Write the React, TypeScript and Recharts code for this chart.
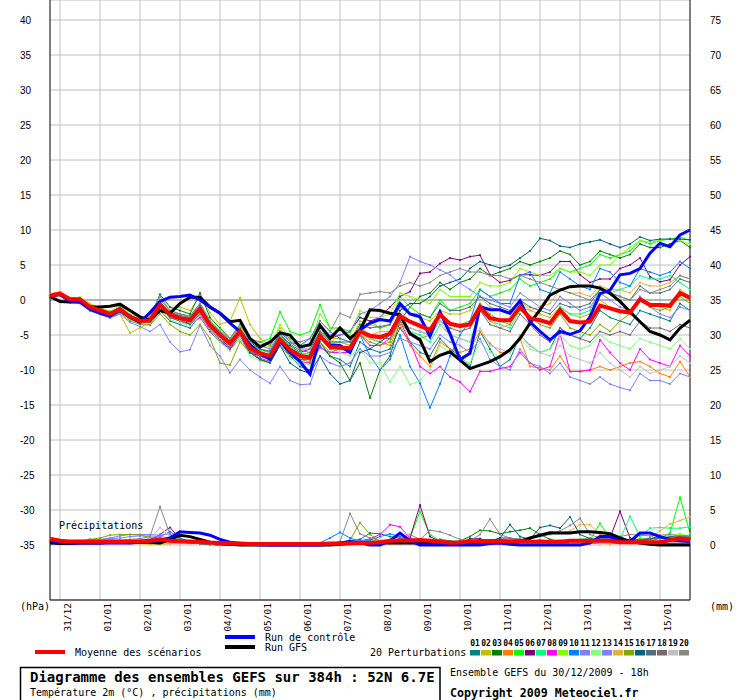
import React from 'react'
import { LineChart, Line, XAxis, YAxis, CartesianGrid, ReferenceLine } from 'recharts'

const MONO = '"DejaVu Sans Mono", "Liberation Mono", monospace'
const SANS = '"Liberation Sans", Arial, sans-serif'

// 6-hourly steps from 30/12/2009 18h up to +384h (65 steps)
const DAY_LABELS = ['31/12', '01/01', '02/01', '03/01', '04/01', '05/01', '06/01', '07/01', '08/01', '09/01', '10/01', '11/01', '12/01', '13/01', '14/01', '15/01']
const DAY_TICKS = [1, 5, 9, 13, 17, 21, 25, 29, 33, 37, 41, 45, 49, 53, 57, 61]
const T_TICKS = [-35, -30, -25, -20, -15, -10, -5, 0, 5, 10, 15, 20, 25, 30, 35, 40]
const P_TICKS = [0, 5, 10, 15, 20, 25, 30, 35, 40, 45, 50, 55, 60, 65, 70, 75]

const PERT_COLORS = ['#008080', '#c0c000', '#008000', '#ff8000', '#00ff00', '#800080', '#00ff80', '#ff00ff', '#80ff00', '#0080ff',
  '#8080ff', '#80ff80', '#8080ff', '#e0b040', '#80a800', '#006080', '#507078', '#786870', '#c0c0c0', '#888888']

// temperature 2m (°C)
const T_MEAN = [0.6, 0.9, 0.1, 0.1, -1.0, -1.5, -2.0, -1.3, -2.4, -3.0, -2.9, -0.7, -2.1, -2.6, -2.9, -1.3, -3.6, -5.0, -6.2, -4.5, -6.9, -7.6, -8.0, -5.6, -7.1, -8.0, -8.2, -5.1, -6.7, -6.8, -6.9, -4.5, -5.1, -5.3, -4.8, -2.3, -3.1, -3.7, -4.3, -2.1, -3.4, -3.7, -3.5, -1.0, -2.6, -2.9, -2.9, -1.0, -2.6, -2.9, -3.3, -1.4, -3.0, -3.2, -3.1, -0.8, -1.2, -1.6, -1.8, 0.1, -0.7, -0.7, -0.8, 1.0, 0.3]
const T_CTRL = [0.5, 0.8, -0.2, -0.3, -1.3, -1.9, -2.3, -1.5, -2.5, -3.2, -1.8, -0.2, 0.4, 0.5, 0.7, 0.0, -1.0, -1.9, -3.3, -4.5, -6.4, -7.6, -8.5, -5.9, -7.5, -8.8, -10.6, -5.2, -6.4, -6.5, -7.5, -4.3, -3.3, -2.8, -3.0, -0.5, -2.0, -2.4, -5.2, -1.7, -4.8, -8.5, -7.6, -0.95, -1.4, -1.4, -1.9, -0.1, -3.1, -4.5, -5.7, -4.5, -4.9, -4.4, -2.4, 0.9, 1.4, 3.6, 3.8, 4.5, 6.7, 8.1, 7.6, 9.3, 10.0]
const T_GFS = [0.5, -0.2, -0.3, -0.2, -1.0, -1.0, -0.9, -0.6, -1.5, -2.4, -2.9, -1.5, -1.9, -0.5, 0.4, 0.4, -1.0, -1.9, -3.1, -2.9, -5.5, -6.7, -6.0, -4.7, -5.0, -6.7, -6.4, -3.6, -5.5, -4.0, -5.5, -4.3, -1.4, -1.5, -1.9, -2.1, -4.8, -5.7, -8.8, -7.9, -7.4, -8.6, -9.8, -9.3, -8.8, -8.1, -7.1, -5.5, -3.3, -1.4, 0.7, 1.4, 1.9, 2.0, 2.0, 1.7, 0.95, -0.2, -1.7, -3.1, -4.5, -5.0, -5.7, -4.0, -2.9]

const T_PERT = [
  // 01
  [0.5, 0.8, 0.0, 0.2, -1.2, -1.8, -2.3, -1.5, -2.8, -3.2, -3.5, -1.5, -3.0, -3.5, -4.0, -2.2, -4.5, -6.0, -7.0, -5.0, -7.5, -8.5, -9.0, -6.0, -8.0, -9.5, -10.0, -6.5, -8.0, -8.5, -9.5, -6.0, -7.0, -7.5, -7.0, -4.0, -6.0, -7.5, -8.0, -5.5, -7.0, -8.0, -9.5, -4.5, -7.0, -9.5, -8.5, -5.0, -6.5, -7.5, -7.0, -4.0, -5.0, -5.5, -4.0, -1.5, -2.5, -3.0, -3.5, -1.5, -2.0, -2.5, -3.0, -0.5, -1.5],
  // 02
  [0.8, 1.0, 0.3, 0.3, -0.5, -1.2, -2.5, -2.0, -4.7, -4.0, -3.0, 0.0, -1.5, -1.0, -1.5, 0.5, -1.8, -3.5, -3.0, 0.3, -3.5, -5.5, -6.5, -4.0, -6.0, -7.0, -6.5, -3.5, -5.5, -5.5, -6.0, -3.0, -3.5, -4.0, -3.5, -1.0, -2.0, -2.5, -3.0, -1.5, -2.0, -2.0, -1.5, 0.5, -1.0, -1.5, -2.0, 0.0, -1.5, -2.0, -2.5, -1.0, -2.0, -2.5, -2.0, 0.0, -1.0, -1.5, -2.0, 0.5, -0.5, -1.0, -1.5, 1.5, 0.5],
  // 03
  [0.6, 0.9, 0.2, 0.2, -0.8, -1.3, -1.8, -1.0, -2.2, -2.8, -2.5, 0.8, -1.0, -1.5, -2.0, 1.0, -2.5, -4.0, -5.5, -3.5, -6.0, -7.0, -7.5, -5.0, -6.5, -7.5, -8.5, -6.0, -8.0, -9.0, -11.5, -9.0, -14.0, -10.0, -8.0, -3.0, -1.0, 0.5, 1.0, 2.5, 1.5, 2.5, 3.0, 4.5, 3.5, 4.0, 4.5, 5.5, 5.0, 5.5, 6.0, 7.0, 6.5, 5.0, 5.5, 7.0, 6.5, 6.0, 6.5, 8.0, 7.5, 7.5, 8.0, 8.5, 7.5],
  // 04
  [0.4, 0.7, -0.2, -0.1, -1.3, -1.9, -2.2, -1.6, -2.6, -3.3, -3.2, -1.0, -2.3, -3.0, -3.5, -2.0, -4.0, -5.5, -6.5, -4.8, -7.2, -8.0, -8.5, -6.0, -7.5, -8.5, -8.0, -5.0, -6.5, -6.5, -7.0, -5.0, -5.5, -6.0, -6.5, -3.5, -6.5, -8.0, -9.5, -6.0, -7.0, -7.5, -7.0, -4.5, -6.2, -7.5, -7.5, -5.5, -9.5, -9.7, -10.0, -8.0, -10.2, -10.2, -10.0, -9.5, -10.0, -9.5, -9.0, -8.8, -9.5, -10.5, -11.0, -8.8, -11.0],
  // 05
  [0.7, 1.0, 0.2, 0.3, -0.8, -1.4, -1.8, -1.2, -2.2, -2.8, -2.5, -0.3, -1.8, -2.0, -2.5, -0.8, -3.0, -4.5, -5.5, -4.0, -6.0, -6.0, -5.5, -1.7, -4.5, -5.0, -4.5, -0.7, -4.0, -4.0, -4.5, -2.5, -3.0, -4.0, -3.5, 0.5, -1.0, -2.0, -2.5, 0.0, -1.5, -1.0, -0.5, 1.5, 0.5, 1.0, 1.5, 3.0, 2.0, 2.5, 3.0, 4.5, 4.0, 4.5, 5.0, 6.5, 6.0, 6.5, 7.0, 8.5, 8.0, 8.5, 8.7, 9.0, 8.5],
  // 06
  [0.5, 0.8, 0.1, 0.0, -1.1, -1.6, -2.0, -1.3, -2.5, -3.0, -3.0, -0.5, -2.0, -2.8, -3.2, -1.5, -3.8, -5.5, -6.5, -5.0, -7.5, -8.0, -8.5, -6.0, -7.0, -7.5, -7.0, -4.5, -5.5, -5.0, -4.5, -2.5, -3.0, -2.5, -1.0, 0.5, 1.2, 3.8, 4.0, 5.2, 6.0, 5.7, 6.2, 6.4, 3.6, 2.5, 2.8, 3.6, 3.6, 3.5, 4.0, 5.5, 5.5, 3.6, 2.5, 3.0, 3.0, 4.5, 5.0, 6.0, 3.3, 2.6, 2.9, 5.0, 6.2],
  // 07
  [0.6, 0.9, 0.1, 0.2, -0.9, -1.4, -1.9, -1.2, -2.3, -2.9, -2.7, -0.5, -2.0, -2.5, -2.8, -1.0, -3.3, -4.8, -6.0, -4.2, -6.5, -7.2, -7.5, -5.0, -6.8, -7.5, -7.8, -4.0, -6.0, -6.0, -6.5, -3.5, -5.5, -6.0, -5.0, -2.5, -4.5, -5.0, -6.0, -3.5, -5.0, -5.5, -6.0, -1.5, -3.0, -3.5, -4.0, -1.5, -2.5, -3.0, -3.5, -1.0, -2.0, -2.0, -1.5, 1.5, 1.0, 1.5, 2.0, 3.5, 3.0, 3.0, 3.5, 2.5, 1.5],
  // 08
  [0.5, 0.7, 0.0, 0.0, -1.1, -1.6, -2.1, -1.4, -2.6, -3.1, -3.1, -1.0, -2.4, -3.0, -3.4, -2.5, -4.5, -5.8, -7.0, -5.5, -7.5, -8.3, -8.8, -6.5, -8.0, -8.8, -9.0, -6.8, -7.5, -7.5, -7.5, -5.0, -6.5, -6.5, -5.5, -3.0, -6.0, -9.5, -10.5, -9.5, -11.0, -11.7, -13.1, -10.2, -10.2, -9.8, -9.5, -7.5, -9.0, -10.0, -9.5, -4.8, -10.2, -10.2, -10.0, -5.7, -7.5, -9.0, -10.0, -7.0, -8.5, -9.0, -9.5, -6.5, -8.0],
  // 09
  [0.7, 1.0, 0.3, 0.4, -0.6, -1.1, -1.6, -0.8, -2.0, -2.5, -2.3, 0.5, -1.5, -2.0, -2.3, -0.5, -2.8, -4.2, -5.5, -3.8, -5.8, -6.5, -6.8, -3.5, -5.8, -6.5, -6.5, -2.0, -4.0, -4.0, -5.0, -1.5, -2.5, -2.5, -2.0, 1.0, 0.5, 0.0, -0.5, 1.5, 0.5, 0.5, 0.5, 2.5, 2.0, 2.0, 2.5, 4.5, 4.0, 3.5, 3.5, 4.5, 4.0, 4.0, 3.5, 5.0, 5.0, 6.5, 7.5, 8.5, 8.3, 8.5, 8.8, 8.5, 8.0],
  // 10
  [0.6, 0.9, 0.0, 0.1, -1.0, -1.5, -2.0, -1.2, -2.4, -3.0, -2.8, -0.3, -2.0, -2.4, -2.6, -0.8, -3.4, -4.8, -6.0, -4.5, -7.0, -7.5, -8.0, -4.5, -6.0, -6.5, -5.5, -3.0, -4.5, -5.5, -6.0, -5.0, -8.0, -10.0, -8.5, -5.0, -9.5, -11.9, -15.4, -12.0, -8.0, -5.0, -3.0, 1.5, 0.5, -0.5, -0.5, 3.5, 4.0, 1.5, 1.0, 4.0, 3.0, 2.0, 1.5, 4.5, 4.0, 2.5, 2.0, 4.5, 4.0, 3.5, 4.0, 5.5, 4.5],
  // 11
  [0.6, 0.9, 0.1, 0.2, -0.9, -1.4, -1.8, -1.0, -2.2, -2.8, -2.5, 0.5, -1.5, -2.0, -2.3, -0.5, -3.0, -4.5, -5.5, -4.0, -6.0, -6.5, -7.0, -4.5, -6.0, -7.0, -7.0, -3.5, -5.0, -5.0, -4.5, -2.0, -1.5, -0.5, 0.5, 2.5, 6.2, 5.5, 5.0, 4.3, 3.6, 2.4, 1.5, 0.5, 0.0, -0.5, -1.0, 1.0, 0.0, -1.0, -1.5, 0.5, -0.5, -1.5, -1.0, 1.0, 0.0, -1.0, -1.5, 0.5, -1.0, -2.0, -2.5, -1.0, -1.5],
  // 12
  [0.5, 0.8, -0.1, 0.0, -1.2, -1.7, -2.2, -1.6, -2.8, -3.3, -3.4, -1.5, -2.8, -3.3, -3.6, -2.3, -4.3, -6.0, -7.3, -5.5, -8.0, -8.7, -9.0, -6.5, -8.3, -9.0, -9.3, -5.5, -7.0, -7.5, -8.0, -7.0, -9.0, -9.0, -11.7, -9.5, -12.1, -11.5, -10.0, -6.5, -7.5, -8.5, -9.0, -6.0, -7.5, -8.0, -7.5, -5.5, -7.0, -7.5, -7.0, -5.0, -6.5, -7.0, -6.5, -5.0, -6.0, -6.5, -7.0, -5.5, -6.0, -6.5, -7.0, -5.5, -7.0],
  // 13
  [0.4, 0.6, -0.4, -0.5, -1.6, -2.0, -2.6, -2.0, -3.2, -3.8, -4.5, -3.5, -6.0, -7.4, -7.1, -3.6, -6.5, -8.0, -10.4, -8.5, -10.0, -11.0, -11.9, -9.5, -11.5, -12.1, -12.0, -8.0, -9.0, -9.5, -9.0, -7.0, -8.0, -8.0, -7.5, -5.5, -6.0, -6.5, -7.0, -5.0, -6.0, -6.5, -7.5, -5.5, -8.5, -9.5, -10.0, -7.0, -9.0, -9.5, -10.5, -9.0, -11.0, -11.5, -12.0, -11.0, -12.0, -12.5, -12.9, -10.5, -11.5, -11.5, -12.0, -10.5, -11.0],
  // 14
  [0.9, 1.2, 0.3, 0.3, -0.8, -1.3, -1.9, -1.2, -2.4, -2.9, -2.8, -0.5, -2.0, -2.7, -3.0, -1.5, -3.8, -5.2, -6.3, -4.8, -7.0, -7.8, -8.2, -6.0, -7.5, -8.0, -7.5, -4.5, -5.8, -6.0, -6.5, -4.0, -5.0, -4.5, -4.5, -1.5, -3.0, -3.5, -4.0, -1.5, -3.5, -4.0, -3.5, -0.5, -3.0, -4.0, -3.5, -1.0, -1.5, -1.0, -0.5, 1.5, 1.0, 1.0, 0.5, 2.0, 1.5, 1.5, 1.0, 2.5, 2.0, 2.0, 2.5, 3.5, 3.0],
  // 15
  [0.5, 0.7, -0.1, -0.2, -1.3, -1.9, -2.4, -1.8, -3.0, -3.5, -3.6, -2.0, -3.5, -4.5, -5.0, -3.5, -5.5, -9.0, -9.3, -6.0, -7.5, -8.5, -8.8, -6.5, -8.0, -8.5, -8.8, -6.0, -7.5, -7.0, -7.5, -5.0, -6.0, -6.5, -6.0, -3.0, -5.0, -5.5, -5.0, -2.0, -3.5, -3.5, -3.0, -0.5, -2.0, -3.0, -3.5, -1.0, -2.5, -3.5, -4.0, -2.0, -4.0, -4.5, -5.0, -3.5, -4.5, -3.0, -2.0, 0.0, -1.0, -1.5, -1.0, 0.5, -0.5],
  // 16
  [0.6, 0.8, 0.0, 0.1, -1.0, -1.5, -2.0, -1.3, -2.5, -3.0, -2.9, -1.0, -2.5, -3.0, -3.3, -1.5, -4.0, -5.5, -6.8, -5.0, -7.5, -8.5, -9.0, -6.5, -9.0, -10.0, -10.5, -8.0, -10.5, -12.0, -11.5, -7.5, -7.0, -6.0, -5.0, -1.5, -0.5, -0.5, 0.5, 2.0, 2.5, 3.0, 4.5, 5.5, 5.0, 4.6, 5.0, 6.0, 7.0, 8.8, 8.5, 7.7, 7.5, 8.0, 8.3, 8.6, 8.0, 7.5, 8.0, 9.0, 8.5, 8.7, 8.7, 8.7, 8.6],
  // 17
  [0.7, 0.9, 0.2, 0.2, -0.8, -1.3, -1.8, -1.1, -2.2, -2.7, -2.6, -0.3, -1.8, -2.2, -2.5, -0.8, -3.2, -4.6, -5.8, -4.2, -6.3, -7.0, -7.3, -4.8, -6.3, -7.2, -7.5, -4.5, -6.0, -6.0, -6.0, -3.5, -4.0, -3.8, -3.5, -1.0, -2.0, -2.0, -2.5, -0.5, -1.5, -1.5, -1.0, 0.5, -0.5, -1.0, -1.5, 0.0, -1.0, -1.5, -2.0, -0.5, -1.0, -1.0, -0.5, 1.5, 1.0, 0.5, 0.0, 2.0, 1.0, 1.0, 1.5, 3.0, 2.5],
  // 18
  [0.4, 0.7, -0.2, -0.1, -1.2, -1.8, -2.2, -1.5, -2.6, -3.2, -3.1, -1.0, -2.5, -3.0, -3.5, -2.0, -4.2, -5.7, -6.8, -5.0, -7.3, -8.0, -8.5, -6.0, -7.5, -8.5, -8.5, -5.5, -7.0, -7.0, -7.0, -4.5, -5.5, -5.5, -5.5, -3.0, -4.0, -4.5, -5.0, -3.0, -4.0, -4.5, -4.0, -1.5, -3.5, -4.0, -4.5, -2.0, -3.5, -5.0, -6.0, -4.0, -5.0, -5.5, -6.0, -4.5, -5.0, -4.5, -5.0, -3.0, -4.0, -4.0, -4.5, -3.5, -4.0],
  // 19
  [0.6, 0.8, 0.0, 0.0, -1.1, -1.6, -2.1, -1.4, -2.5, -3.1, -3.0, -0.8, -2.3, -2.9, -3.2, -1.8, -4.0, -5.5, -6.5, -5.0, -7.0, -7.8, -8.3, -5.5, -7.3, -8.0, -8.3, -5.0, -6.8, -6.8, -7.0, -4.5, -5.5, -5.5, -5.0, -2.5, -4.0, -4.5, -5.0, -3.0, -5.0, -5.5, -6.0, -4.0, -6.5, -7.0, -7.5, -5.0, -6.5, -7.5, -8.0, -6.5, -8.0, -8.5, -9.0, -7.5, -9.0, -10.0, -11.0, -9.5, -10.5, -10.0, -9.5, -8.0, -9.0],
  // 20
  [0.6, 0.9, 0.1, 0.1, -1.0, -1.5, -1.9, -1.2, -2.3, -2.8, -2.6, 0.0, -1.5, -2.0, -2.3, -0.5, -3.0, -4.5, -5.5, -3.5, -5.5, -6.0, -6.5, -4.5, -5.5, -6.0, -5.5, -3.0, -4.5, -1.9, -2.5, 0.8, 1.0, 1.2, 1.0, 2.0, 2.5, 2.0, 2.5, 3.5, 4.0, 4.5, 4.0, 4.0, 3.5, 3.5, 3.0, 3.5, 3.0, 2.5, 2.0, 1.5, 1.0, 0.5, 0.0, 1.5, 1.0, 0.5, 0.0, 1.5, 1.0, 1.5, 2.0, 3.5, 3.0],
]

// precipitations (mm), right axis
const P_MEAN = [0.9, 0.6, 0.5, 0.5, 0.5, 0.45, 0.45, 0.45, 0.5, 0.5, 0.6, 0.8, 0.6, 0.55, 0.5, 0.45, 0.35, 0.3, 0.25, 0.2, 0.15, 0.15, 0.15, 0.15, 0.15, 0.15, 0.15, 0.15, 0.2, 0.2, 0.25, 0.3, 0.33, 0.4, 0.6, 0.65, 0.65, 0.7, 0.6, 0.45, 0.33, 0.35, 0.55, 0.55, 0.57, 0.57, 0.55, 0.57, 0.5, 0.48, 0.48, 0.48, 0.6, 0.62, 0.62, 0.62, 0.6, 0.4, 0.38, 0.38, 0.38, 0.4, 0.7, 0.95, 0.7]
const P_CTRL = [0.6, 0.4, 0.3, 0.3, 0.3, 0.3, 0.3, 0.3, 0.3, 0.4, 0.5, 0.6, 1.0, 1.9, 1.8, 1.7, 1.4, 0.8, 0.4, 0.2, 0.1, 0.05, 0, 0, 0, 0, 0, 0, 0.1, 0.3, 0.5, 0.3, 0, 0, 0.6, 1.7, 0.6, 0, 0, 0, 0, 0, 0, 0, 0.2, 0.3, 0.1, 0, 0, 0, 0, 0, 0, 0, 0.3, 1.2, 1.2, 0.6, 0.5, 1.7, 1.7, 1.2, 0.8, 0.6, 0.5]
const P_GFS = [0.3, 0.2, 0.2, 0.3, 0.3, 0.3, 0.4, 0.5, 0.5, 0.4, 0.4, 0.3, 0.8, 1.4, 1.2, 0.8, 0.4, 0.2, 0.1, 0, 0, 0, 0, 0, 0, 0, 0, 0, 0, 0.1, 0.2, 0.3, 0.3, 0.3, 0.3, 0.3, 0.3, 0.3, 0.3, 0.3, 0.3, 0.3, 0.3, 0.3, 0.4, 0.4, 0.3, 0.5, 1.0, 1.4, 1.75, 1.7, 1.7, 1.9, 1.9, 1.8, 1.6, 1.0, 0.5, 0.3, 0.1, 0, 0, 0, 0]

const P_PERT = [
  [0.7, 0.5, 0.4, 0.5, 0.6, 0.5, 0.4, 0.4, 0.5, 0.6, 0.7, 0.9, 0.6, 0.5, 0.4, 0.3, 0.2, 0.1, 0.1, 0, 0, 0, 0, 0, 0, 0, 0, 0, 0.2, 0.4, 0.6, 0.8, 1.7, 1.6, 1.2, 1.0, 0.6, 0.5, 0.4, 0.8, 0.6, 0.4, 0.5, 0.8, 0.6, 0.5, 0.4, 0.3, 0.5, 0.6, 0.4, 0.3, 0.2, 0.3, 0.5, 0.4, 0.6, 0.8, 0.7, 0.6, 0.9, 1.0, 1.2, 1.3, 1.2],
  [0.8, 0.4, 0.3, 0.2, 0.2, 0.2, 0.3, 0.3, 0.2, 0.2, 0.1, 0.1, 0.2, 0.3, 0.4, 0.2, 0.1, 0, 0, 0, 0, 0, 0, 0, 0, 0, 0, 0, 0, 0.1, 0.2, 0.1, 0.1, 0.2, 0.3, 0.4, 0.3, 0.2, 0.2, 0.3, 0.2, 0.1, 0.1, 0, 0.1, 0.2, 0.3, 0.2, 0.2, 0.3, 0.3, 0.2, 0.2, 0.3, 0.4, 0.3, 0.2, 0.2, 0.3, 0.2, 0.2, 0.3, 0.2, 0.2, 0.3],
  [0.6, 0.5, 0.4, 0.5, 0.5, 0.4, 0.3, 0.3, 0.4, 0.5, 0.6, 0.7, 0.5, 0.4, 0.3, 0.2, 0.1, 0, 0, 0, 0, 0, 0, 0, 0, 0, 0, 0, 0, 0.1, 0.3, 0.5, 0.4, 0.3, 0.5, 0.6, 0.5, 0.4, 0.3, 0.4, 0.5, 0.6, 1.2, 2.1, 2.0, 1.6, 1.9, 2.1, 2.4, 1.5, 0.8, 0.5, 0.4, 0.3, 0.4, 0.5, 0.4, 0.3, 0.4, 0.3, 0.4, 0.5, 0.4, 0.3, 0.4],
  [0.7, 0.5, 0.5, 0.6, 0.7, 0.8, 0.8, 0.7, 0.6, 0.5, 0.4, 0.4, 0.3, 0.3, 0.2, 0.2, 0.1, 0, 0, 0, 0, 0, 0, 0, 0, 0, 0, 0, 0, 0, 0.1, 0.2, 0.2, 0.3, 0.2, 0.2, 0.3, 0.4, 0.3, 0.2, 0.2, 0.2, 0.3, 0.3, 0.2, 0.2, 0.1, 0.2, 0.2, 0.3, 0.2, 0.2, 0.3, 0.2, 0.3, 0.2, 0.2, 0.3, 0.2, 0.3, 0.2, 0.2, 0.3, 0.4, 0.3],
  [0.6, 0.5, 0.4, 0.4, 0.5, 0.5, 0.4, 0.5, 0.6, 0.7, 0.8, 1.0, 0.9, 0.6, 0.4, 0.3, 0.2, 0.1, 0, 0, 0, 0, 0, 0, 0, 0, 0, 0, 0, 0.2, 0.3, 0.5, 0.6, 0.5, 0.6, 0.8, 1.0, 4.8, 1.5, 0.6, 0.5, 0.4, 0.3, 0.4, 0.5, 0.6, 0.5, 0.4, 0.5, 0.4, 0.3, 0.4, 0.5, 0.6, 0.7, 3.1, 0.9, 0.5, 0.6, 0.7, 0.5, 1.0, 1.7, 6.8, 1.7],
  [0.5, 0.4, 0.3, 0.4, 0.5, 0.5, 0.4, 0.4, 0.5, 0.6, 0.7, 1.5, 2.5, 0.9, 0.5, 0.3, 0.2, 0.1, 0, 0, 0, 0, 0, 0, 0, 0, 0, 0, 0, 0.1, 0.2, 0.3, 0.3, 0.4, 0.5, 0.7, 1.0, 5.7, 1.2, 0.5, 0.4, 0.3, 0.9, 0.9, 0.4, 1.0, 1.0, 0.8, 0.6, 0.5, 0.4, 0.5, 0.6, 0.5, 0.6, 0.7, 1.0, 4.8, 1.0, 0.6, 0.5, 0.4, 0.5, 0.6, 0.5],
  [0.6, 0.4, 0.4, 0.5, 0.5, 0.4, 0.4, 0.5, 0.5, 0.6, 0.7, 0.8, 1.2, 0.7, 0.4, 0.2, 0.1, 0, 0, 0, 0, 0, 0, 0, 0, 0, 0, 0, 0.1, 0.2, 0.3, 0.2, 0.3, 0.4, 0.5, 0.6, 0.7, 0.6, 0.5, 0.4, 0.4, 0.5, 0.4, 0.5, 0.6, 0.7, 0.6, 0.5, 0.6, 0.7, 0.6, 0.5, 0.7, 0.8, 1.0, 0.7, 0.6, 0.8, 4.1, 1.2, 2.4, 2.5, 2.4, 2.4, 2.6],
  [0.5, 0.4, 0.3, 0.3, 0.4, 0.3, 0.3, 0.4, 0.4, 0.5, 0.6, 0.7, 0.6, 0.5, 0.3, 0.2, 0.1, 0, 0, 0, 0, 0, 0, 0, 0, 0, 0, 0, 0, 0.2, 0.4, 0.6, 0.9, 1.5, 2.9, 2.6, 1.0, 0.6, 0.5, 0.4, 0.3, 0.3, 0.2, 0.3, 0.4, 0.5, 0.4, 0.3, 0.2, 0.3, 0.4, 0.3, 0.2, 0.3, 0.2, 0.3, 0.4, 0.3, 0.4, 0.3, 0.2, 0.3, 0.2, 0.4, 0.3],
  [0.5, 0.4, 0.4, 0.5, 0.4, 0.4, 0.5, 0.5, 0.6, 0.6, 0.7, 0.8, 0.9, 0.6, 0.4, 0.3, 0.2, 0.1, 0, 0, 0, 0, 0, 0, 0, 0, 0, 0, 0, 0.1, 0.2, 0.3, 0.4, 0.5, 0.6, 0.6, 0.5, 0.6, 0.5, 0.4, 0.3, 0.3, 0.4, 0.5, 0.5, 0.6, 0.5, 0.5, 0.4, 0.5, 0.6, 0.7, 0.6, 0.5, 0.6, 0.6, 0.8, 0.7, 0.8, 0.9, 1.0, 1.1, 1.4, 1.6, 1.2],
  [0.5, 0.4, 0.5, 0.5, 0.4, 0.4, 0.5, 0.6, 0.6, 0.7, 0.9, 1.2, 1.9, 1.0, 0.5, 0.3, 0.2, 0.1, 0, 0, 0, 0, 0, 0, 0, 0, 0, 0.3, 1.0, 1.8, 1.0, 0.5, 0.7, 1.2, 1.6, 1.2, 0.8, 0.5, 0.4, 0.3, 0.3, 0.4, 0.5, 0.4, 0.3, 0.4, 0.5, 0.4, 0.3, 0.3, 0.4, 0.5, 0.4, 0.5, 0.7, 0.9, 1.0, 0.8, 0.7, 0.6, 0.8, 0.9, 1.0, 0.8, 0.7],
  [0.5, 0.4, 0.5, 0.6, 0.7, 0.8, 1.0, 1.3, 1.5, 1.5, 1.5, 1.4, 1.6, 0.8, 0.5, 0.3, 0.2, 0.1, 0, 0, 0, 0, 0, 0, 0, 0, 0, 0, 0, 0.1, 0.2, 0.2, 0.3, 0.3, 0.4, 0.5, 0.4, 0.3, 0.3, 0.4, 0.5, 0.4, 0.3, 0.3, 0.4, 0.3, 0.3, 0.4, 0.4, 0.3, 0.3, 0.4, 0.3, 0.3, 0.4, 0.4, 0.3, 0.4, 0.5, 0.4, 0.3, 0.3, 0.4, 0.3, 0.4],
  [0.6, 0.4, 0.3, 0.4, 0.4, 0.4, 0.4, 0.4, 0.5, 0.5, 0.5, 0.6, 0.5, 0.4, 0.3, 0.2, 0.1, 0, 0, 0, 0, 0, 0, 0, 0, 0, 0, 0, 0, 0, 0.1, 0.2, 0.3, 0.4, 0.5, 0.4, 0.4, 0.3, 0.4, 0.5, 0.4, 0.3, 0.3, 0.4, 0.3, 0.3, 0.4, 0.3, 0.4, 0.3, 0.3, 0.4, 0.4, 0.5, 0.4, 0.6, 0.5, 0.4, 0.5, 0.4, 0.6, 0.5, 0.6, 0.5, 0.6],
  [0.6, 0.5, 0.5, 0.6, 0.7, 0.7, 0.9, 1.0, 1.2, 1.3, 1.3, 1.2, 1.0, 0.6, 0.4, 0.3, 0.2, 0.1, 0, 0, 0, 0, 0, 0, 0, 0, 0, 0, 0, 0.1, 0.1, 0.2, 0.2, 0.3, 0.4, 0.3, 0.3, 0.2, 0.3, 0.3, 0.3, 0.3, 0.2, 0.3, 0.3, 0.2, 0.2, 0.3, 0.2, 0.3, 0.3, 0.2, 0.2, 0.3, 0.2, 0.3, 0.3, 0.2, 0.3, 0.3, 0.2, 0.3, 0.2, 0.3, 0.2],
  [0.6, 0.5, 0.5, 0.6, 0.8, 0.5, 0.4, 0.4, 0.3, 0.3, 0.3, 0.2, 0.2, 0.2, 0.3, 0.4, 0.3, 0.2, 0.1, 0, 0, 0, 0, 0, 0, 0, 0, 0, 0, 0, 0.1, 0.1, 0.2, 0.2, 0.3, 0.3, 0.2, 0.2, 0.1, 0.1, 0.2, 0.2, 0.3, 0.2, 0.2, 0.2, 0.3, 0.5, 1.0, 1.5, 1.8, 1.8, 2.0, 2.9, 2.9, 1.5, 1.0, 0.8, 0.6, 0.7, 1.0, 2.0, 3.0, 3.5, 4.0],
  [0.5, 0.5, 0.5, 0.6, 0.8, 1.0, 1.4, 1.5, 1.5, 1.4, 1.1, 0.8, 0.6, 0.4, 0.3, 0.2, 0.1, 0, 0, 0, 0, 0, 0, 0, 0, 0, 0, 0, 0.1, 0.3, 0.7, 3.2, 1.5, 0.6, 0.5, 0.4, 0.3, 0.3, 0.4, 0.3, 0.3, 0.2, 0.3, 0.3, 0.4, 0.3, 0.3, 0.4, 0.3, 0.3, 0.4, 0.3, 0.4, 0.5, 0.6, 0.4, 0.3, 0.3, 0.4, 0.5, 0.4, 0.5, 0.6, 0.5, 0.6],
  [0.6, 0.4, 0.4, 0.5, 0.5, 0.5, 0.4, 0.4, 0.5, 0.6, 0.6, 0.7, 0.6, 0.5, 0.3, 0.2, 0.1, 0, 0, 0, 0, 0, 0, 0, 0, 0, 0, 0, 0, 0.1, 0.2, 0.3, 0.3, 0.4, 0.5, 0.4, 0.4, 0.5, 0.4, 0.4, 0.3, 0.3, 0.4, 0.5, 0.6, 1.0, 2.9, 1.2, 0.8, 2.5, 2.8, 2.4, 4.0, 1.5, 0.9, 0.7, 0.6, 0.6, 0.8, 0.7, 0.9, 1.2, 1.0, 0.9, 1.1],
  [0.6, 0.4, 0.4, 0.5, 0.5, 0.4, 0.4, 0.5, 0.5, 0.5, 0.6, 0.6, 0.5, 0.4, 0.3, 0.2, 0.1, 0, 0, 0, 0, 0, 0, 0, 0, 0, 0, 0, 0, 0.1, 0.1, 0.2, 0.3, 0.4, 0.5, 0.5, 0.4, 0.5, 0.6, 0.5, 0.5, 0.4, 0.5, 0.6, 0.5, 0.6, 0.5, 0.5, 0.6, 0.7, 0.6, 0.5, 0.6, 0.7, 0.8, 0.7, 0.6, 0.7, 0.8, 0.8, 0.9, 1.0, 1.1, 1.2, 1.1],
  [0.5, 0.4, 0.3, 0.3, 0.4, 0.4, 0.3, 0.4, 0.4, 0.5, 0.5, 0.6, 0.5, 0.4, 0.3, 0.2, 0.1, 0, 0, 0, 0, 0, 0, 0, 0, 0, 0, 0, 0, 0.1, 0.2, 0.3, 0.3, 0.3, 0.4, 0.4, 0.3, 0.3, 0.3, 0.4, 0.3, 0.3, 0.3, 0.3, 0.4, 0.4, 0.3, 0.3, 0.4, 0.4, 0.5, 0.4, 0.3, 0.4, 0.4, 0.5, 0.4, 0.4, 0.5, 0.5, 0.4, 0.5, 0.4, 0.5, 0.5],
  [0.6, 0.5, 0.4, 0.5, 0.5, 0.5, 0.5, 0.6, 0.6, 0.7, 0.9, 2.5, 1.2, 0.7, 0.4, 0.3, 0.2, 0.1, 0, 0, 0, 0, 0, 0, 0, 0, 0, 0, 0, 0.1, 0.2, 0.3, 0.3, 0.4, 0.5, 0.4, 0.4, 0.3, 0.3, 0.3, 0.4, 0.3, 0.3, 0.3, 0.3, 0.3, 0.4, 0.3, 0.3, 0.3, 0.3, 0.4, 0.3, 0.3, 0.4, 0.3, 0.3, 0.4, 0.3, 0.3, 0.4, 0.3, 0.4, 0.4, 0.5],
  [0.6, 0.5, 0.4, 0.5, 0.6, 0.6, 0.6, 0.7, 0.8, 0.9, 1.2, 5.5, 1.5, 0.8, 0.5, 0.3, 0.2, 0.1, 0, 0, 0, 0, 0, 0, 0, 0, 0, 0, 0.2, 0.5, 4.5, 1.6, 1.0, 0.6, 0.5, 0.9, 1.5, 0.8, 2.1, 1.9, 1.4, 0.8, 0.6, 1.5, 3.7, 1.5, 1.0, 0.8, 1.0, 1.2, 1.5, 2.0, 2.8, 3.8, 1.5, 1.0, 1.0, 1.2, 1.5, 1.4, 1.3, 1.4, 1.5, 1.3, 1.4],
]

// left axis spans 600px at 7px per degree, centred on 0; right axis is left + 35
const T_DOMAIN = [-300 / 7, 300 / 7]
const P_DOMAIN = [T_DOMAIN[0] + 35, T_DOMAIN[1] + 35]

const chartData = T_MEAN.map((_, i) => {
  const row: Record<string, number> = {
    step: i,
    tMean: T_MEAN[i], tCtrl: T_CTRL[i], tGfs: T_GFS[i],
    pMean: P_MEAN[i], pCtrl: P_CTRL[i], pGfs: P_GFS[i],
  }
  T_PERT.forEach((s, k) => { row[`t${k}`] = s[i] })
  P_PERT.forEach((s, k) => { row[`p${k}`] = s[i] })
  return row
})

const txt = { fontFamily: MONO, fontSize: 10, fill: '#000' }
const axTxt = { fontFamily: SANS, fontSize: 10, fill: '#000' }

const LeftTick = ({ y, payload }: any) => (
  <text x={20} y={y + 3.5} {...axTxt}>{payload.value}</text>
)
const RightTick = ({ y, payload }: any) => (
  <text x={710} y={y + 3.5} {...axTxt}>{payload.value}</text>
)
const DayTick = ({ x, payload }: any) => (
  <text transform={`translate(${x + 11},603) rotate(-90)`} textAnchor="end" fontFamily={MONO} fontSize={9.5} fill="#000">
    {DAY_LABELS[DAY_TICKS.indexOf(payload.value)]}
  </text>
)

function Overlay() {
  return (
    <svg width={740} height={700} style={{ position: 'absolute', left: 0, top: 0, pointerEvents: 'none' }}>
      <text x={59} y={528.5} {...txt}>Précipitations</text>
      <text x={20} y={610} {...txt}>(hPa)</text>
      <text x={710} y={610} {...txt}>(mm)</text>

      <line x1={35} x2={65} y1={652} y2={652} stroke="#ff0000" strokeWidth={4} />
      <text x={75} y={655.5} {...txt}>Moyenne des scénarios</text>
      <line x1={225} x2={255} y1={637} y2={637} stroke="#0000ff" strokeWidth={4} />
      <text x={265} y={640.5} {...txt}>Run de contrôle</text>
      <line x1={225} x2={255} y1={647} y2={647} stroke="#000" strokeWidth={4} />
      <text x={265} y={650.5} {...txt}>Run GFS</text>

      <text x={370} y={655.5} {...txt}>20 Perturbations</text>
      {PERT_COLORS.map((c, k) => (
        <g key={k}>
          <text x={475 + k * 11} y={646} textAnchor="middle" fontFamily={MONO} fontSize={8} fontWeight="bold" fill="#000">
            {String(k + 1).padStart(2, '0')}
          </text>
          <rect x={470 + k * 11} y={650} width={10} height={5.5} fill={c} />
        </g>
      ))}

      <rect x={20.5} y={667.5} width={419.5} height={40} fill="none" stroke="#000" strokeWidth={1.5} />
      <text x={30} y={681.5} fontFamily={MONO} fontSize={14} fontWeight="bold" fill="#000">Diagramme des ensembles GEFS sur 384h : 52N 6.7E</text>
      <text x={30} y={696} {...txt}>Température 2m (°C) , précipitations (mm)</text>
      <text x={450} y={676} {...txt}>Ensemble GEFS du 30/12/2009 - 18h</text>
      <text x={450} y={696.5} fontFamily={MONO} fontSize={11.6} fontWeight="bold" fill="#000">Copyright 2009 Meteociel.fr</text>
    </svg>
  )
}

export default function App() {
  const dotFor = (c: string) => ({ r: 1.1, fill: c, stroke: 'none' })
  return (
    <div style={{ position: 'absolute', left: 0, top: 0, width: 740, height: 700, background: '#fff' }}>
      {/* base layer: grid, axes and the 20 perturbations */}
      <LineChart width={740} height={700} data={chartData} margin={{ top: 0, right: 0, bottom: 0, left: 0 }}>
        <CartesianGrid yAxisId="t" stroke="#c0c0c0" vertical={false} />
        <XAxis dataKey="step" type="number" domain={[0, 64]} ticks={DAY_TICKS} interval={0} height={100}
          tick={DayTick} tickLine={false} axisLine={{ stroke: '#000' }} />
        <YAxis yAxisId="t" orientation="left" width={50} domain={T_DOMAIN} ticks={T_TICKS} interval={0}
          allowDataOverflow tick={LeftTick} tickLine={false} axisLine={{ stroke: '#000' }} />
        <YAxis yAxisId="p" orientation="right" width={50} domain={P_DOMAIN} ticks={P_TICKS} interval={0}
          allowDataOverflow tick={RightTick} tickLine={false} axisLine={{ stroke: '#000' }} />
        {DAY_TICKS.map((d) => (
          <ReferenceLine key={d} yAxisId="t" x={d} stroke="#c0c0c0" />
        ))}
        <ReferenceLine yAxisId="t" y={0} stroke="#8c8c8c" />

        {PERT_COLORS.map((c, k) => (
          <Line key={`t${k}`} yAxisId="t" dataKey={`t${k}`} stroke={c} strokeWidth={1} dot={dotFor(c)}
            type="linear" isAnimationActive={false} />
        ))}
        {PERT_COLORS.map((c, k) => (
          <Line key={`p${k}`} yAxisId="p" dataKey={`p${k}`} stroke={c} strokeWidth={1} dot={dotFor(c)}
            type="linear" isAnimationActive={false} />
        ))}
      </LineChart>

      {/* top layer: GFS run, control run and ensemble mean, drawn over the perturbation markers */}
      <div style={{ position: 'absolute', left: 0, top: 0 }}>
        <LineChart width={740} height={700} data={chartData} margin={{ top: 0, right: 50, bottom: 100, left: 50 }}>
          <XAxis dataKey="step" type="number" domain={[0, 64]} hide />
          <YAxis yAxisId="t" domain={T_DOMAIN} allowDataOverflow hide />
          <YAxis yAxisId="p" orientation="right" domain={P_DOMAIN} allowDataOverflow hide />
          <Line yAxisId="t" dataKey="tGfs" stroke="#000" strokeWidth={3} dot={false} isAnimationActive={false} />
          <Line yAxisId="p" dataKey="pGfs" stroke="#000" strokeWidth={3} dot={false} isAnimationActive={false} />
          <Line yAxisId="t" dataKey="tCtrl" stroke="#0000ff" strokeWidth={3} dot={false} isAnimationActive={false} />
          <Line yAxisId="p" dataKey="pCtrl" stroke="#0000ff" strokeWidth={3} dot={false} isAnimationActive={false} />
          <Line yAxisId="t" dataKey="tMean" stroke="#ff0000" strokeWidth={4} dot={false} isAnimationActive={false} />
          <Line yAxisId="p" dataKey="pMean" stroke="#ff0000" strokeWidth={4} dot={false} isAnimationActive={false} />
        </LineChart>
      </div>
      <Overlay />
    </div>
  )
}
